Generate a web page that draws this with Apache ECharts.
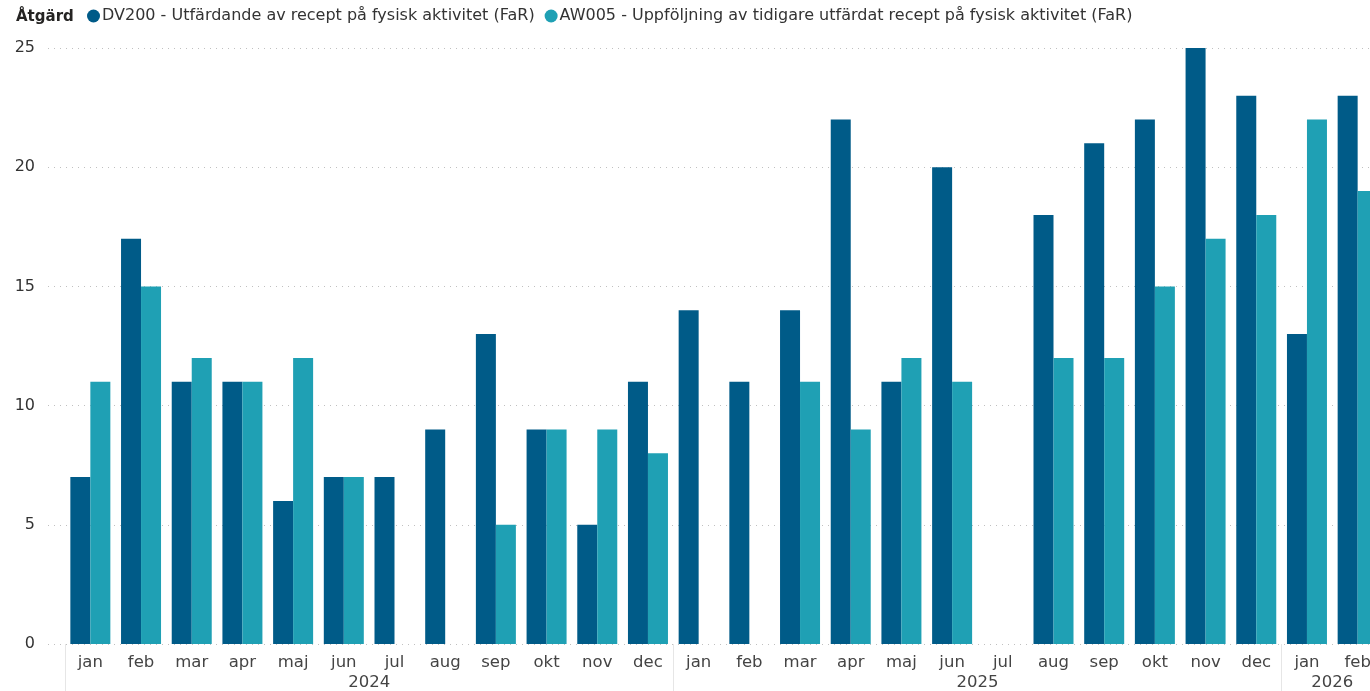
<!DOCTYPE html>
<html>
<head>
<meta charset="utf-8">
<script src="https://cdn.jsdelivr.net/npm/echarts@6/dist/echarts.min.js"></script>
<style>
html,body{margin:0;padding:0;background:#fff;overflow:hidden;width:1370px;height:691px;}
#chart{width:1383px;height:691px;}
</style>
</head>
<body>
<div id="chart"></div>
<script>
const months = ['jan','feb','mar','apr','maj','jun','jul','aug','sep','okt','nov','dec',
                'jan','feb','mar','apr','maj','jun','jul','aug','sep','okt','nov','dec',
                'jan','feb'];
const dv200 = [7,17,11,11,6,7,7,9,13,9,5,11,
               14,11,14,22,11,20,null,18,21,22,25,23,
               13,23];
const aw005 = [11,15,12,11,12,7,null,null,5,9,9,8,
               null,null,11,9,12,11,null,12,12,15,17,18,
               22,19];
const years = ['2024','2025','2026'];
const monthsPerYear = [12,12,2];

const seriesNames = ['DV200 - Utfärdande av recept på fysisk aktivitet (FaR)',
                     'AW005 - Uppföljning av tidigare utfärdat recept på fysisk aktivitet (FaR)'];

const yearStarts = [];
const yearCenters = [];
let acc = 0;
monthsPerYear.forEach(n => { yearStarts.push(acc); yearCenters.push(acc + n/2); acc += n; });

const FONT = 'DejaVu Sans';
const chart = echarts.init(document.getElementById('chart'), null, {renderer:'canvas'});
chart.setOption({
  animation:false,
  textStyle:{fontFamily:FONT},
  title:{text:'Åtgärd', left:16, top:10, padding:0, textStyle:{fontSize:15, fontWeight:'bold', color:'#252423', fontFamily:FONT}},
  legend:{
    left:87, top:8, padding:0, icon:'circle', itemWidth:13, itemHeight:13, itemGap:10,
    textStyle:{fontSize:16, color:'#333', fontFamily:FONT, padding:[0,0,0,-3]},
    data:seriesNames
  },
  grid:[
    {left:48, right:13, top:48, bottom:47, containLabel:false},
    {left:65, right:0, top:48, bottom:47, containLabel:false}
  ],
  xAxis:[
    {gridIndex:0, type:'value', min:0, max:1, show:false},
    {gridIndex:1, type:'category', data:months,
      axisLine:{show:false}, axisTick:{show:false},
      axisLabel:{interval:0, margin:10, fontSize:16.5, color:'#444', fontFamily:FONT}},
    {gridIndex:1, type:'value', min:0, max:months.length, position:'bottom',
      axisLine:{show:false}, splitLine:{show:false},
      axisTick:{show:true, inside:false, length:47, customValues:yearStarts, lineStyle:{color:'#e6e6e6', width:1}},
      axisLabel:{customValues:yearCenters, margin:30, fontSize:16.5, color:'#444', fontFamily:FONT,
        formatter:function(v){ const i = yearCenters.indexOf(v); return i>=0 ? years[i] : ''; }}}
  ],
  yAxis:[
    {gridIndex:0, type:'value', min:0, max:25, interval:5,
      axisLine:{show:false}, axisTick:{show:false},
      axisLabel:{margin:13, fontSize:16, color:'#333', fontFamily:FONT},
      splitLine:{show:true, lineStyle:{type:[1,5], color:'#c0c0c0', width:1}}},
    {gridIndex:1, type:'value', min:0, max:25, interval:5, show:false, splitLine:{show:false}}
  ],
  series:[
    {name:seriesNames[0], type:'bar', xAxisIndex:1, yAxisIndex:1, data:dv200,
      barWidth:20, barGap:'0%', itemStyle:{color:'#005B88'}},
    {name:seriesNames[1], type:'bar', xAxisIndex:1, yAxisIndex:1, data:aw005,
      barWidth:20, barGap:'0%', itemStyle:{color:'#1FA0B4'}}
  ]
});
</script>
</body>
</html>
